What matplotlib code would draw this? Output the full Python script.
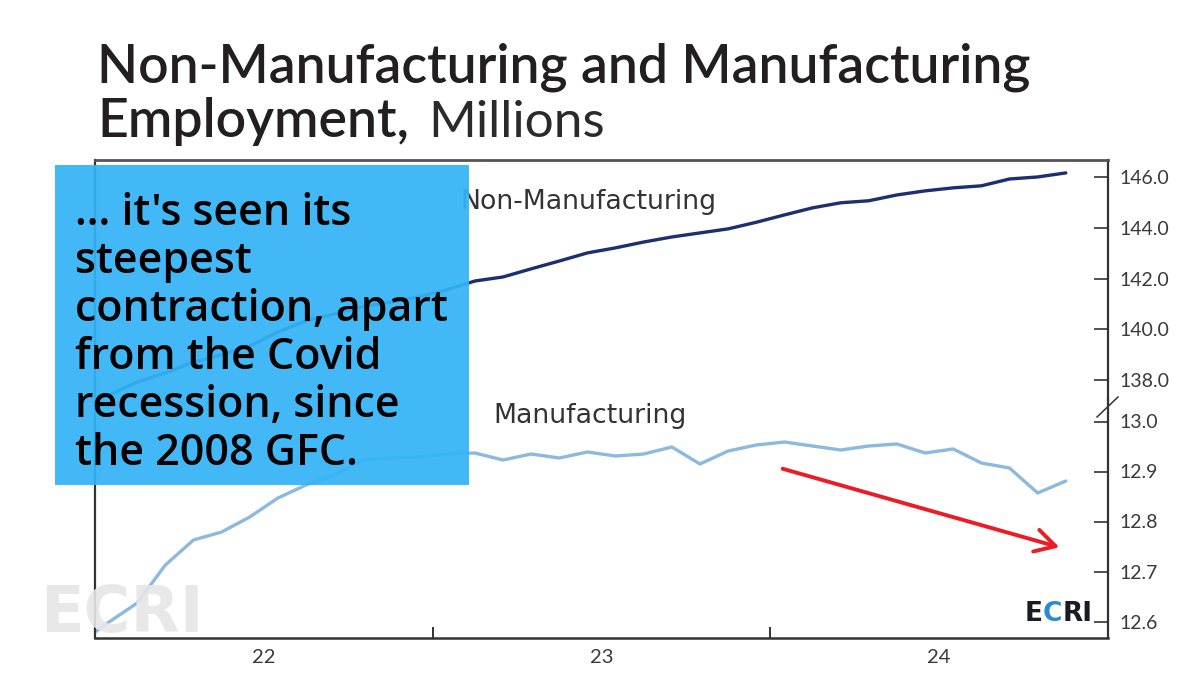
import numpy as np
import matplotlib
matplotlib.use("Agg")
import matplotlib.pyplot as plt
from matplotlib.patches import Rectangle, FancyArrowPatch
from matplotlib.lines import Line2D

# monthly data, Dec 2021 .. Nov 2024, millions
month_pos = np.arange(36) - 0.5          # 0 = start of Jan 2022, points at mid-month
non_mfg = [137.01,
           137.41, 137.92, 138.28, 138.71, 138.99, 139.34, 139.90, 140.33, 140.61, 140.89, 141.08, 141.28,
           141.56, 141.91, 142.07, 142.39, 142.70, 143.02, 143.22, 143.45, 143.65, 143.81, 143.97, 144.23,
           144.52, 144.80, 145.00, 145.08, 145.31, 145.47, 145.59, 145.67, 145.94, 146.02, 146.18]
mfg = [12.559,
       12.599, 12.637, 12.713, 12.763, 12.779, 12.809, 12.847, 12.873, 12.893, 12.923, 12.927, 12.929,
       12.935, 12.937, 12.923, 12.935, 12.927, 12.939, 12.931, 12.935, 12.949, 12.915, 12.941, 12.953,
       12.959, 12.951, 12.943, 12.951, 12.955, 12.937, 12.945, 12.917, 12.907, 12.857, 12.881]

year_labels = ["22", "23", "24"]
year_centres = [6, 18, 30]
year_bounds = [12, 24]
upper_ticks = [138.0, 140.0, 142.0, 144.0, 146.0]
lower_ticks = [12.6, 12.7, 12.8, 12.9, 13.0]

W, H = 1200, 688
NAVY = "#1c2f6e"
LIGHT = "#8cb9de"
DARK = "#333333"


def fx(px):
    return px / W


def fy(py):
    return 1 - py / H


fig = plt.figure(figsize=(12, 6.88), dpi=100)
fig.patch.set_facecolor("white")

ax_top = fig.add_axes([fx(95), fy(400), fx(1108) - fx(95), fy(160) - fy(400)])
ax_bot = fig.add_axes([fx(95), fy(638), fx(1108) - fx(95), fy(400) - fy(638)])

################# LINES #################
ax_top.plot(month_pos, non_mfg, color=NAVY, lw=2.4, solid_capstyle="round")
ax_bot.plot(month_pos, mfg, color=LIGHT, lw=2.4, solid_capstyle="round")

ax_top.set_ylim(137.21, 146.69)
ax_bot.set_ylim(12.567, 13.043)
for ax in (ax_top, ax_bot):
    ax.set_xlim(0, 36)
    ax.yaxis.tick_right()
    ax.tick_params(axis="y", direction="in", length=10, width=1.2, color=DARK,
                   pad=8, labelsize=14, labelcolor="#3a3a3a")
    for s in ("left", "right"):
        ax.spines[s].set_color(DARK)
        ax.spines[s].set_linewidth(1.6)

ax_top.set_yticks(upper_ticks)
ax_top.set_yticklabels(["%.1f" % v for v in upper_ticks], family="Lato")
ax_bot.set_yticks(lower_ticks)
ax_bot.set_yticklabels(["%.1f" % v for v in lower_ticks], family="Lato")

ax_top.spines["bottom"].set_visible(False)
ax_top.spines["top"].set_color("#555555")
ax_top.spines["top"].set_linewidth(2)
ax_top.set_xticks([])
ax_bot.spines["top"].set_visible(False)
ax_bot.spines["bottom"].set_color(DARK)
ax_bot.spines["bottom"].set_linewidth(1.8)

ax_bot.set_xticks(year_bounds)
ax_bot.set_xticklabels([])
ax_bot.set_xticks(year_centres, minor=True)
ax_bot.set_xticklabels(year_labels, minor=True, family="Lato", fontsize=14.5, color="#3a3a3a")
ax_bot.tick_params(axis="x", which="major", direction="in", length=8, width=1.4, color=DARK)
ax_bot.tick_params(axis="x", which="minor", length=0, pad=8)

# axis break mark
fig.add_artist(Line2D([fx(1097), fx(1118)], [fy(417), fy(397)], color=DARK, lw=1.1))

################# LABELS #################
fig.text(fx(460), fy(209), "Non-Manufacturing", family="DejaVu Sans", fontsize=19.3,
         color="#333333", va="baseline")
fig.text(fx(493), fy(423), "Manufacturing", family="DejaVu Sans", fontsize=19.3,
         color="#333333", va="baseline")

# red arrow
fig.add_artist(FancyArrowPatch((fx(780), fy(468)), (fx(1062), fy(548)),
                               transform=fig.transFigure, color="#ec1c24", lw=2.8,
                               arrowstyle="->,head_length=0.8,head_width=0.45",
                               mutation_scale=18))

# watermark
fig.text(fx(40), fy(632), "ECRI", family="DejaVu Sans", fontweight="bold", fontsize=46,
         color="#e6e6e6", va="baseline", alpha=0.9)

# ECRI logo bottom right
renderer = fig.canvas.get_renderer()
x0 = fx(1025)
for part, col in (("E", "#1b1b24"), ("C", "#2a8ad0"), ("RI", "#1b1b24")):
    t = fig.text(x0, fy(621), part, family="DejaVu Sans", fontweight="bold", fontsize=19,
                 color=col, va="baseline")
    bb = t.get_window_extent(renderer)
    x0 = bb.x1 / W

################# TITLE #################
fig.text(fx(97), fy(82), "Non-Manufacturing and Manufacturing", family="Lato",
         fontweight="semibold", fontsize=38.5, color="#231f20", va="baseline")
t = fig.text(fx(97), fy(137), "Employment,", family="Lato", fontweight="semibold",
             fontsize=38.5, color="#231f20", va="baseline")
bb = t.get_window_extent(renderer)
fig.text(bb.x1 / W + 0.016, fy(137), "Millions", family="Lato", fontweight="normal",
         fontsize=37, color="#2a2a2a", va="baseline")

################# CAPTION BOX #################
fig.add_artist(Rectangle((fx(55), fy(485)), fx(469) - fx(55), fy(165) - fy(485),
                         transform=fig.transFigure, facecolor="#33b4f6", edgecolor="none",
                         alpha=0.93, zorder=5))
fig.text(fx(75), fy(465), "... it's seen its\nsteepest\ncontraction, apart\nfrom the Covid\n"
         "recession, since\nthe 2008 GFC.", family="Open Sans", fontweight="semibold",
         fontsize=31, color="black", va="baseline", linespacing=1.15, zorder=6)

fig.savefig("out.png", dpi=100)
